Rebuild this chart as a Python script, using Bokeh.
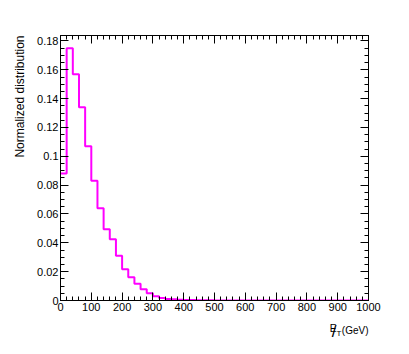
import numpy as np
from bokeh.plotting import figure
from bokeh.models import (Range1d, FixedTicker, LinearAxis, Title,
                          CustomJSTickFormatter)
from bokeh.embed import file_html
from bokeh.resources import INLINE

# ---- data ----
bin_edges = list(range(0, 1001, 20))
values = [0.088, 0.175, 0.157, 0.134, 0.107, 0.083, 0.064, 0.0495, 0.0425, 0.031,
          0.0217, 0.0162, 0.0116, 0.0078, 0.005, 0.003, 0.0018, 0.0011, 0.0008, 0.0005,
          0.0004, 0.0003, 0.0002, 0.00015, 0.0001, 0.00008, 0.00006, 0.00005, 0.00004, 0.00003,
          0.00002, 0.00002, 0.00001, 0.00001, 0.00001, 0.0, 0.0, 0.0, 0.0, 0.0,
          0.0, 0.0, 0.0, 0.0, 0.0, 0.0, 0.0, 0.0, 0.0, 0.0]
x_ticks = list(range(0, 1001, 100))
x_minor = list(range(0, 1001, 20))
y_ticks = [0, 0.02, 0.04, 0.06, 0.08, 0.10, 0.12, 0.14, 0.16, 0.18]
y_minor = [i * 0.005 for i in range(0, 37)]
y_title = "Normalized distribution"
x_unit = "(GeV)"

FONT = "Liberation Sans"
W, H = 401, 346

p = figure(width=W, height=H, output_backend="svg", toolbar_location=None,
           x_range=Range1d(0, 1000), y_range=Range1d(0, 0.1838),
           min_border_left=60, min_border_right=33, min_border_top=35,
           min_border_bottom=46)
p.xgrid.visible = False
p.ygrid.visible = False
p.outline_line_color = "black"
p.outline_line_width = 1
p.background_fill_color = "white"
p.border_fill_color = "white"

ytick_fmt = CustomJSTickFormatter(code="return String(Number(tick.toFixed(3)));")
blank_fmt = CustomJSTickFormatter(code="return '';")


def style_axis(ax, ticks, minor, fmt):
    ax.ticker = FixedTicker(ticks=ticks, minor_ticks=minor)
    ax.formatter = fmt
    ax.major_tick_in = 8
    ax.major_tick_out = 0
    ax.minor_tick_in = 4
    ax.minor_tick_out = 0
    ax.axis_line_color = "black"
    ax.major_tick_line_color = "black"
    ax.minor_tick_line_color = "black"
    ax.major_label_text_font = FONT
    ax.major_label_text_font_size = "11px"
    ax.major_label_text_color = "black"
    ax.major_label_standoff = 2


style_axis(p.xaxis[0], x_ticks, x_minor, CustomJSTickFormatter(code="return String(tick);"))
style_axis(p.yaxis[0], y_ticks, y_minor, ytick_fmt)

top = LinearAxis()
style_axis(top, x_ticks, x_minor, blank_fmt)
p.add_layout(top, "above")
right = LinearAxis()
style_axis(right, y_ticks, y_minor, blank_fmt)
p.add_layout(right, "right")

# histogram
p.step(x=bin_edges, y=values + [values[-1]], mode="after",
       line_color="#ff00ff", line_width=2)

# y axis title (top aligned)
p.add_layout(Title(text=y_title, align="right", text_font=FONT,
                   text_font_size="12px", text_font_style="normal",
                   text_color="black", standoff=15), "left")


# x axis title pieces, right aligned below the frame (zero-height panels)
def xt(text, size, offset, standoff):
    p.add_layout(Title(text=text, align="right", offset=offset, standoff=standoff,
                       text_font=FONT, text_font_size=size,
                       text_font_style="normal", text_color="black"), "below")


xt(x_unit, "10px", 0, -44)
xt("E", "10px", 32, -41)
xt("/", "17px", 32, -54)
xt("T", "8px", 27, -48)

open("out.html", "w").write(file_html(p, INLINE))
